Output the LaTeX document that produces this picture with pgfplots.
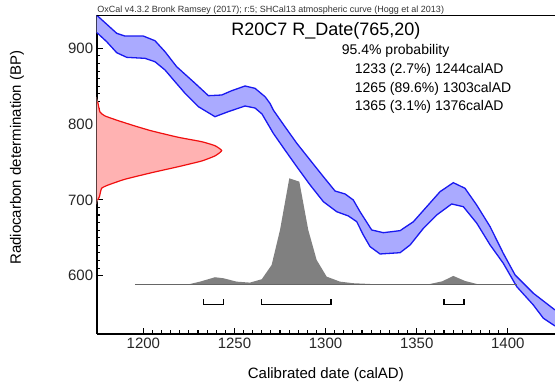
\documentclass[border=0pt]{standalone}
\usepackage{pgfplots}
\pgfplotsset{compat=1.18}
\usepackage{fontspec}
\setmainfont{Liberation Sans}
\definecolor{bandfill}{RGB}{170,170,255}
\definecolor{bandline}{RGB}{25,25,240}
\definecolor{redfill}{RGB}{255,178,178}
\definecolor{redline}{RGB}{240,15,15}
\definecolor{histgray}{RGB}{128,128,128}
\begin{document}
\begin{tikzpicture}
\path[use as bounding box] (-96.7pt,-53pt) rectangle (458.3pt,334pt);
\begin{axis}[
  at={(0pt,0pt)}, anchor=south west,
  scale only axis, width=458.3pt, height=319pt,
  xmin=1174.4, xmax=1425.9, ymin=523, ymax=944,
  axis x line*=bottom, axis y line*=left,
  axis line style={black, line width=2pt, -},
  xtick={1200,1250,1300,1350,1400}, ytick={600,700,800,900},
  minor x tick num=9, minor y tick num=9,
  tick align=inside, major tick length=6pt, minor tick length=3.5pt,
  tick style={black, line width=1.1pt},
  /pgf/number format/assume math mode=true,
  /pgf/number format/set thousands separator={},
  ticklabel style={font=\fontsize{15}{17}\selectfont, text=black!85},
  xlabel={Calibrated date (calAD)},
  ylabel={Radiocarbon determination (BP)},
  label style={font=\fontsize{15}{17}\selectfont},
  xlabel style={at={(axis description cs:0.5,-0.1285)}, anchor=center},
  ylabel style={at={(axis description cs:-0.1739,0.5527)}, anchor=center},
  clip=true,
]
% R_Date probability (red)
\addplot[fill=redfill, draw=none] coordinates {
(1174.4,836)(1174.95,829.6)(1176.2,816)(1179.0,810.7)(1186.3,804.5)(1195.4,797.5)(1204.6,791)(1219.2,782.6)(1232.0,776.8)(1239.3,771.5)(1243.0,765)(1239.3,758)(1232.0,751.3)(1219.2,743.8)(1204.6,735.9)(1189.9,727.2)(1180.8,719.7)(1177.1,715.3)(1175.9,704.2)(1174.95,700)(1174.4,694)
} -- cycle;
\addplot[redline, line width=1.2pt, smooth, tension=0.3] coordinates {
(1174.95,829.6)(1176.2,816)(1179.0,810.7)(1186.3,804.5)(1195.4,797.5)(1204.6,791)(1219.2,782.6)(1232.0,776.8)(1239.3,771.5)(1243.0,765)(1239.3,758)(1232.0,751.3)(1219.2,743.8)(1204.6,735.9)(1189.9,727.2)(1180.8,719.7)(1177.1,715.3)(1175.9,704.2)(1174.95,700)
};
% calibration curve band
\addplot[fill=bandfill, draw=none] coordinates {
(1174.4,943.5)(1174.95,942.6)(1185.4,919.8)(1189.9,916.2)(1200.0,916.2)(1206.4,910.0)(1211.9,895.5)(1218.3,875.7)(1228.4,853.8)(1235.7,837.5)(1243.0,838.4)(1248.5,844.1)(1255.8,850.3)(1261.3,847.2)(1266.8,836.1)(1269.5,827.4)(1271.3,818.6)(1277.7,796.6)(1284.2,774.7)(1291.5,752.6)(1298.8,730.6)(1305.2,711.7)(1310.7,707.8)(1315.2,699.9)(1318.9,684.4)(1325.3,660.3)(1331.7,656.7)(1340.9,659.4)(1348.2,671.2)(1355.5,691.0)(1362.8,710.8)(1370.1,722.7)(1376.5,715.3)(1382.9,693.3)(1390.3,664.6)(1397.5,629.6)(1404.0,600.9)(1414.0,576.8)(1425.9,554.7)
(1425.9,533.6)(1419.5,543.8)(1414.0,561.3)(1404.9,585.5)(1397.5,616.4)(1390.3,640.5)(1383.0,669.1)(1375.6,691.0)(1369.2,694.6)(1361.0,680.1)(1353.7,662.5)(1346.4,640.5)(1340.9,630.3)(1329.9,628.6)(1324.4,638.3)(1320.7,653.7)(1317.1,671.2)(1312.5,678.8)(1306.1,684.4)(1298.8,697.6)(1291.5,719.7)(1284.2,743.8)(1277.7,765.8)(1271.3,787.9)(1265.1,813.4)(1261.3,821.2)(1255.8,823.9)(1246.6,816.4)(1239.3,809.8)(1230.2,823.0)(1222.9,840.6)(1217.4,855.9)(1211.9,871.4)(1206.4,882.3)(1200.9,886.8)(1190.9,888.1)(1185.4,894.2)(1179.9,908.7)(1174.95,919.8)(1174.4,920.5)
} -- cycle;
\addplot[bandline, line width=1.3pt] coordinates {
(1174.4,943.5)(1174.95,942.6)(1185.4,919.8)(1189.9,916.2)(1200.0,916.2)(1206.4,910.0)(1211.9,895.5)(1218.3,875.7)(1228.4,853.8)(1235.7,837.5)(1243.0,838.4)(1248.5,844.1)(1255.8,850.3)(1261.3,847.2)(1266.8,836.1)(1269.5,827.4)(1271.3,818.6)(1277.7,796.6)(1284.2,774.7)(1291.5,752.6)(1298.8,730.6)(1305.2,711.7)(1310.7,707.8)(1315.2,699.9)(1318.9,684.4)(1325.3,660.3)(1331.7,656.7)(1340.9,659.4)(1348.2,671.2)(1355.5,691.0)(1362.8,710.8)(1370.1,722.7)(1376.5,715.3)(1382.9,693.3)(1390.3,664.6)(1397.5,629.6)(1404.0,600.9)(1414.0,576.8)(1425.9,554.7)
};
\addplot[bandline, line width=1.3pt] coordinates {
(1174.4,920.5)(1174.95,919.8)(1179.9,908.7)(1185.4,894.2)(1190.9,888.1)(1200.9,886.8)(1206.4,882.3)(1211.9,871.4)(1217.4,855.9)(1222.9,840.6)(1230.2,823.0)(1239.3,809.8)(1246.6,816.4)(1255.8,823.9)(1261.3,821.2)(1265.1,813.4)(1271.3,787.9)(1277.7,765.8)(1284.2,743.8)(1291.5,719.7)(1298.8,697.6)(1306.1,684.4)(1312.5,678.8)(1317.1,671.2)(1320.7,653.7)(1324.4,638.3)(1329.9,628.6)(1340.9,630.3)(1346.4,640.5)(1353.7,662.5)(1361.0,680.1)(1369.2,694.6)(1375.6,691.0)(1383.0,669.1)(1390.3,640.5)(1397.5,616.4)(1404.9,585.5)(1414.0,561.3)(1419.5,543.8)(1425.9,533.6)
};
% calibrated probability distribution
\addplot[fill=histgray, draw=none] coordinates {
(1225.6,589)(1231.1,592.1)(1239.3,597.9)(1243.9,596.6)(1251.2,592.1)(1258.5,590.8)(1265.0,595.3)(1270.4,614.1)(1275.0,660.3)(1280.1,728.5)(1285.6,724.0)(1290.5,660.3)(1295.1,620.7)(1300.6,598.7)(1307.9,592.1)(1315.2,590.0)(1324.4,589)
} -- cycle;
\addplot[fill=histgray, draw=none] coordinates {
(1357.3,589)(1364.0,592.5)(1370.1,599.6)(1376.5,593.0)(1383.0,589)
} -- cycle;
\addplot[black!60, line width=0.7pt] coordinates {(1195.4,589)(1404.9,589)};
% 95.4% ranges
\addplot[black, line width=1.3pt] coordinates {(1233,569)(1233,562.3)(1244,562.3)(1244,569)};
\addplot[black, line width=1.3pt] coordinates {(1265,569)(1265,562.3)(1303,562.3)(1303,569)};
\addplot[black, line width=1.3pt] coordinates {(1365,569)(1365,562.3)(1376,562.3)(1376,569)};
\end{axis}
\draw[black, line width=0.9pt] (0pt,319pt) -- (458.3pt,319pt);
\node[anchor=base west, inner sep=0pt, font=\fontsize{9}{10}\selectfont, text=black!80] at (0.5pt,321pt) {OxCal v4.3.2 Bronk Ramsey (2017); r:5; SHCal13 atmospheric curve (Hogg et al 2013)};
\node[anchor=base, inner sep=0pt, font=\fontsize{18}{20}\selectfont] at (229.2pt,298pt) {R20C7 R\_Date(765,20)};
\node[anchor=base west, inner sep=0pt, font=\fontsize{14}{16}\selectfont] at (245pt,279pt) {95.4\% probability};
\node[anchor=base west, inner sep=0pt, font=\fontsize{14}{16}\selectfont] at (258pt,260pt) {1233 (2.7\%) 1244calAD};
\node[anchor=base west, inner sep=0pt, font=\fontsize{14}{16}\selectfont] at (258pt,241.7pt) {1265 (89.6\%) 1303calAD};
\node[anchor=base west, inner sep=0pt, font=\fontsize{14}{16}\selectfont] at (258pt,223pt) {1365 (3.1\%) 1376calAD};
\end{tikzpicture}
\end{document}
